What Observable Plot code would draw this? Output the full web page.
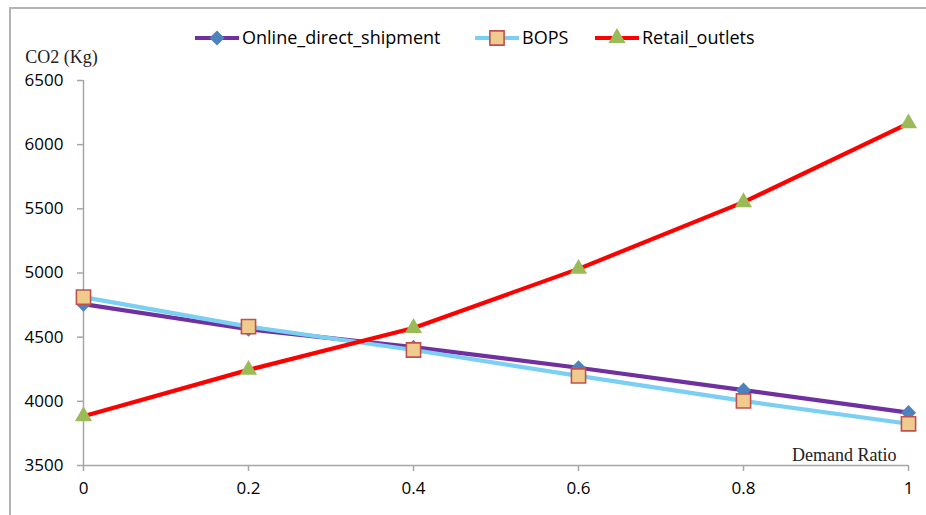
<!DOCTYPE html>
<html>
<head>
<meta charset="utf-8">
<script src="https://cdn.jsdelivr.net/npm/d3@7"></script>
<script src="https://cdn.jsdelivr.net/npm/@observablehq/plot@0.6"></script>
<style>
  html, body { margin: 0; padding: 0; background: #fff; }
  #wrap { position: relative; width: 926px; height: 515px; overflow: hidden; }
  #frame { position: absolute; left: 9px; top: 7px; width: 1000px; height: 600px;
           border-top: 2px solid #b4b4b4; border-left: 2px solid #b4b4b4; box-sizing: border-box; }
  #chart { position: absolute; left: 0; top: 0; }
  #legend { position: absolute; left: 0; top: 0; }
</style>
</head>
<body>
<div id="wrap">
  <div id="frame"></div>
  <div id="chart"></div>
  <svg id="legend" width="926" height="60"></svg>
</div>
<script>
const demandRatio = [0, 0.2, 0.4, 0.6, 0.8, 1];
const onlineDirect = [4757, 4562, 4422, 4262, 4087, 3912];
const bops = [4812, 4582, 4400, 4198, 4003, 3825];
const retailOutlets = [3884, 4245, 4572, 5032, 5552, 6166];
const yTicks = [3500, 4000, 4500, 5000, 5500, 6000, 6500];
const xTicks = [0, 0.2, 0.4, 0.6, 0.8, 1];

const seriesNames = ["Online_direct_shipment", "BOPS", "Retail_outlets"];
const lineColors = ["#7030A0", "#7ACFF2", "#FF0000"];
const markerFill = ["#4F81BD", "#EFCB8E", "#9BBB59"];
const markerStroke = ["none", "#C0504D", "none"];
const markerSymbol = ["diamond2", "square", "triangle"];
const markerR = [6.8, 8.0, 6.4];
const seriesValues = [onlineDirect, bops, retailOutlets];

const tables = seriesValues.map(vals => demandRatio.map((x, i) => ({x, y: vals[i]})));

const marks = [];
marks.push(Plot.ruleX([0], {stroke: "#a6a6a6", strokeWidth: 1.5}));
marks.push(Plot.ruleY([3500], {stroke: "#a6a6a6", strokeWidth: 1.5}));
tables.forEach((t, k) => {
  marks.push(Plot.line(t, {x: "x", y: "y", stroke: lineColors[k], strokeWidth: 4.2}));
  marks.push(Plot.dot(t, {x: "x", y: "y", symbol: () => markerSymbol[k], r: markerR[k],
    fill: markerFill[k], stroke: markerStroke[k], strokeWidth: markerStroke[k] === "none" ? 0 : 1.6}));
});
marks.push(Plot.axisY({ticks: yTicks, tickSize: 6, tickPadding: 14, tickFormat: d => String(d),
  stroke: "#a6a6a6", strokeWidth: 1.5, label: null, fontSize: 17, fill: "#000"}));
marks.push(Plot.axisX({ticks: xTicks, tickSize: 6, tickPadding: 10, tickFormat: d => String(d),
  stroke: "#a6a6a6", strokeWidth: 1.5, label: null, fontSize: 17, fill: "#000"}));
marks.push(Plot.text(["CO2 (Kg)"], {frameAnchor: "top-left", text: d => d, dx: -22, dy: -30,
  textAnchor: "middle", fontFamily: "'Liberation Serif', serif", fontSize: 18, fill: "#222"}));
marks.push(Plot.text(["Demand Ratio"], {frameAnchor: "bottom-right", text: d => d, dx: -12, dy: -5,
  textAnchor: "end", fontFamily: "'Liberation Serif', serif", fontSize: 18, fill: "#222"}));

const chart = Plot.plot({
  width: 926,
  height: 515,
  marginLeft: 83,
  marginRight: 18,
  marginTop: 80,
  marginBottom: 50,
  style: {fontFamily: "'Open Sans', sans-serif", background: "transparent", overflow: "visible"},
  x: {domain: [0, 1]},
  y: {domain: [3500, 6500]},
  marks
});
document.getElementById("chart").appendChild(chart);

// Legend
const legend = d3.select("#legend");
const legendX = [195, 475, 595];
const symbols = {diamond2: d3.symbolDiamond2, square: d3.symbolSquare, triangle: d3.symbolTriangle};
seriesNames.forEach((name, k) => {
  const g = legend.append("g").attr("transform", `translate(${legendX[k]},38)`);
  g.append("line").attr("x1", 0).attr("x2", 44).attr("y1", 0).attr("y2", 0)
    .attr("stroke", lineColors[k]).attr("stroke-width", 4.2);
  g.append("path").attr("transform", "translate(22,0)")
    .attr("d", d3.symbol(symbols[markerSymbol[k]], Math.PI * markerR[k] * markerR[k])())
    .attr("fill", markerFill[k]).attr("stroke", markerStroke[k])
    .attr("stroke-width", markerStroke[k] === "none" ? 0 : 1.6);
  g.append("text").attr("x", 47).attr("y", 0).attr("dy", "0.36em")
    .attr("font-family", "'Open Sans', sans-serif").attr("font-size", 18).attr("fill", "#000")
    .text(name);
});
</script>
</body>
</html>
